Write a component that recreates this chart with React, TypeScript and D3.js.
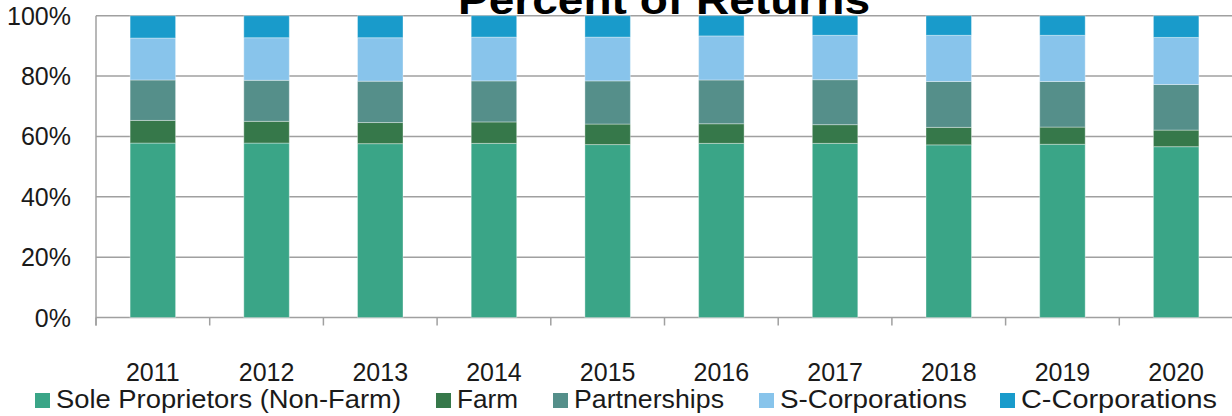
import React from "react";
import * as d3 from "d3";

const years = ["2011", "2012", "2013", "2014", "2015", "2016", "2017", "2018", "2019", "2020"];
const seriesNames = ["Sole Proprietors (Non-Farm)", "Farm", "Partnerships", "S-Corporations", "C-Corporations"];
const soleProprietors = [57.8, 57.8, 57.6, 57.7, 57.3, 57.7, 57.7, 57.2, 57.4, 56.6];
const farm = [7.5, 7.2, 7.0, 7.1, 6.8, 6.5, 6.2, 5.8, 5.7, 5.5];
const partnerships = [13.4, 13.6, 13.7, 13.6, 14.3, 14.5, 14.9, 15.2, 15.1, 15.1];
const sCorporations = [13.9, 14.1, 14.4, 14.5, 14.5, 14.6, 14.7, 15.3, 15.3, 15.6];
const cCorporations = [7.4, 7.3, 7.3, 7.1, 7.1, 6.7, 6.5, 6.5, 6.5, 7.2];
const yTicks = [0, 20, 40, 60, 80, 100];
const colors = ["#3AA587", "#36784A", "#558F8A", "#88C4EB", "#199BCB"];

const W = 1232;
const H = 416;
const FONT = "'Liberation Sans', Arial, sans-serif";

export default function App() {
  const seriesValues = [soleProprietors, farm, partnerships, sCorporations, cCorporations];
  const keys = seriesNames;
  const rows = years.map((y, i) => {
    const r: any = { year: y };
    keys.forEach((k, j) => (r[k] = seriesValues[j][i]));
    return r;
  });
  const stacked = d3.stack().keys(keys).offset(d3.stackOffsetExpand)(rows);

  const left = 96;
  const right = 1233;
  const top = 15.7;
  const bottom = 317.5;
  const x = d3.scaleBand().domain(years).range([left, right]).paddingInner(0.6).paddingOuter(0.3);
  const y = d3.scaleLinear().domain([0, 1]).range([bottom, top]);
  const yPct = d3.scaleLinear().domain([0, 100]).range([bottom, top]);
  const step = x.step();
  const boundaries = d3.range(years.length + 1).map((i) => left + i * step);

  const legendX = [35, 436, 553, 759, 1000];
  const legendW = [345, 61, 150, 187, 196];

  return (
    <svg
      width={W}
      height={H}
      style={{ position: "absolute", left: 0, top: 0, background: "#fff" }}
      fontFamily={FONT}
    >
      {yTicks.map((t) => (
        <line key={t} x1={left} x2={W} y1={yPct(t)} y2={yPct(t)} stroke="#A0A0A0" strokeWidth={1.5} />
      ))}
      <line x1={left} x2={left} y1={top} y2={bottom + 8} stroke="#A0A0A0" strokeWidth={1.5} />
      {boundaries.map((b, i) => (
        <line key={i} x1={b} x2={b} y1={bottom} y2={bottom + 8} stroke="#A0A0A0" strokeWidth={1.5} />
      ))}
      {stacked.map((s, si) => (
        <g key={s.key} fill={colors[si]}>
          {s.map((d, i) => (
            <rect
              key={i}
              x={x(years[i])}
              width={x.bandwidth()}
              y={y(d[1])}
              height={y(d[0]) - y(d[1])}
              stroke="rgba(255,255,255,0.35)"
              strokeWidth={1}
            />
          ))}
        </g>
      ))}
      {yTicks.map((t) => (
        <text key={t} x={71} y={yPct(t) + 9} textAnchor="end" fontSize={25} fill="#1a1a1a">
          {t}%
        </text>
      ))}
      {years.map((yr) => (
        <text key={yr} x={(x(yr) as number) + x.bandwidth() / 2} y={381} textAnchor="middle" fontSize={25} fill="#1a1a1a">
          {yr}
        </text>
      ))}
      <text
        x={664}
        y={14}
        textAnchor="middle"
        fontSize={40}
        fontWeight="bold"
        fill="#000"
        textLength={412}
        lengthAdjust="spacingAndGlyphs"
      >
        Percent of Returns
      </text>
      {seriesNames.map((n, i) => (
        <g key={n}>
          <rect x={legendX[i]} y={393} width={15} height={15} fill={colors[i]} />
          <text
            x={legendX[i] + 21}
            y={407.5}
            fontSize={26}
            fill="#1a1a1a"
            textLength={legendW[i]}
            lengthAdjust="spacingAndGlyphs"
          >
            {n}
          </text>
        </g>
      ))}
    </svg>
  );
}
